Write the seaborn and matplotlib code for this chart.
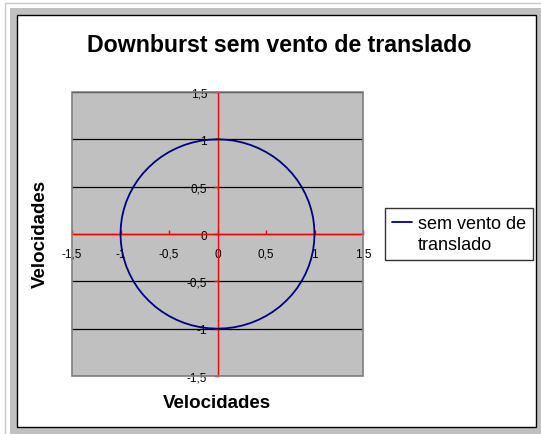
import numpy as np
import pandas as pd
import matplotlib
matplotlib.use("Agg")
import matplotlib.pyplot as plt
import seaborn as sns
from matplotlib.patches import Rectangle
from matplotlib.lines import Line2D

# ---- data ----
x_vals = [1.000, 0.996, 0.985, 0.966, 0.940, 0.906, 0.866, 0.819, 0.766, 0.707,
          0.643, 0.574, 0.500, 0.423, 0.342, 0.259, 0.174, 0.087, 0.000,
          -0.087, -0.174, -0.259, -0.342, -0.423, -0.500, -0.574, -0.643, -0.707,
          -0.766, -0.819, -0.866, -0.906, -0.940, -0.966, -0.985, -0.996, -1.000,
          -0.996, -0.985, -0.966, -0.940, -0.906, -0.866, -0.819, -0.766, -0.707,
          -0.643, -0.574, -0.500, -0.423, -0.342, -0.259, -0.174, -0.087, 0.000,
          0.087, 0.174, 0.259, 0.342, 0.423, 0.500, 0.574, 0.643, 0.707,
          0.766, 0.819, 0.866, 0.906, 0.940, 0.966, 0.985, 0.996, 1.000]
y_vals = [0.000, 0.087, 0.174, 0.259, 0.342, 0.423, 0.500, 0.574, 0.643, 0.707,
          0.766, 0.819, 0.866, 0.906, 0.940, 0.966, 0.985, 0.996, 1.000,
          0.996, 0.985, 0.966, 0.940, 0.906, 0.866, 0.819, 0.766, 0.707,
          0.643, 0.574, 0.500, 0.423, 0.342, 0.259, 0.174, 0.087, 0.000,
          -0.087, -0.174, -0.259, -0.342, -0.423, -0.500, -0.574, -0.643, -0.707,
          -0.766, -0.819, -0.866, -0.906, -0.940, -0.966, -0.985, -0.996, -1.000,
          -0.996, -0.985, -0.966, -0.940, -0.906, -0.866, -0.819, -0.766, -0.707,
          -0.643, -0.574, -0.500, -0.423, -0.342, -0.259, -0.174, -0.087, 0.000]
series_name = "sem vento de translado"
legend_lines = ["sem vento de", "translado"]
tick_values = [-1.5, -1.0, -0.5, 0.0, 0.5, 1.0, 1.5]
tick_labels = ["-1,5", "-1", "-0,5", "0", "0,5", "1", "1,5"]
title = "Downburst sem vento de translado"
x_label = "Velocidades"
y_label = "Velocidades"

df = pd.DataFrame({"x": x_vals, "y": y_vals})

sns.set_theme(style="white")
plt.rcParams["font.family"] = ["Liberation Sans", "DejaVu Sans"]
plt.rcParams["text.color"] = "black"
plt.rcParams["xtick.color"] = "black"
plt.rcParams["ytick.color"] = "black"

W, H = 541, 435
fig = plt.figure(figsize=(W / 100, H / 100), dpi=100)
fig.patch.set_facecolor("white")

def fx(px):
    return px / W

def fy(py):
    return 1 - py / H

# outer frame decorations
fig.add_artist(Line2D([fx(5), fx(5)], [fy(4), 0], transform=fig.transFigure,
                      color="#c8c8c8", lw=1, zorder=-3))
fig.add_artist(Line2D([fx(5), 1], [fy(4), fy(4)], transform=fig.transFigure,
                      color="#c8c8c8", lw=1, zorder=-3))
fig.add_artist(Rectangle((fx(10), 0), 1 - fx(10), fy(9), transform=fig.transFigure,
                         facecolor="#c0c0c0", edgecolor="none", zorder=-2))
fig.add_artist(Rectangle((fx(17), fy(428)), fx(536) - fx(17), fy(16) - fy(428),
                         transform=fig.transFigure, facecolor="white",
                         edgecolor="black", lw=1, zorder=-1))

ax = fig.add_axes([fx(72), fy(377), fx(363) - fx(72), fy(93) - fy(377)])
ax.set_zorder(2)
ax.set_facecolor("#c0c0c0")

sns.lineplot(data=df, x="x", y="y", sort=False, estimator=None, ax=ax,
             color="#000080", lw=1.3, label=series_name, zorder=5)

ax.set_xlim(-1.5, 1.5)
ax.set_ylim(-1.5, 1.5)
ax.set_xticks(tick_values)
ax.set_xticklabels(tick_labels)
ax.set_yticks(tick_values)
ax.set_yticklabels(tick_labels)

# grid: horizontal black lines only
ax.yaxis.grid(True, color="black", lw=0.9)
ax.xaxis.grid(False)
ax.set_axisbelow(True)

# axes crossing at zero in red
for side in ["left", "bottom"]:
    ax.spines[side].set_position(("data", 0))
    ax.spines[side].set_color("#ff0000")
    ax.spines[side].set_linewidth(1)
    ax.spines[side].set_zorder(4)
for side in ["top", "right"]:
    ax.spines[side].set_visible(False)

ax.add_patch(Rectangle((0, 0), 1, 1, transform=ax.transAxes, fill=False,
                       edgecolor="#808080", lw=1.2, zorder=6, clip_on=False))

ax.tick_params(axis="y", which="both", direction="out", length=3, width=1,
               color="#ff0000", labelcolor="black", labelsize=8.5, pad=4.5, left=True)
ax.tick_params(axis="x", which="both", direction="in", length=3, width=1,
               color="#ff0000", labelcolor="black", labelsize=8.5, pad=10, bottom=True)

ax.set_xlabel("")
ax.set_ylabel("")

fig.text(fx(279.5), fy(46), title, ha="center", va="center",
         fontsize=16.7, fontweight="bold", color="black")
fig.text(fx(217), fy(404), x_label, ha="center", va="center",
         fontsize=13.5, fontweight="bold", color="black")
fig.text(fx(40), fy(234), y_label, ha="center", va="center", rotation=90,
         fontsize=13.5, fontweight="bold", color="black")

# legend: series handle on the first line, label wrapped onto a second line
series_handle = ax.get_lines()[0]
blank_handle = Line2D([], [], color="none")
leg = ax.legend([series_handle, blank_handle], legend_lines,
                loc="upper left", bbox_to_anchor=(fx(385), fy(209)),
                bbox_transform=fig.transFigure, frameon=True, fancybox=False,
                edgecolor="black", facecolor="white", fontsize=13,
                borderaxespad=0, handlelength=1.1, handletextpad=0.3,
                borderpad=0.4, labelspacing=0.2)
leg.get_frame().set_linewidth(1)
for t in leg.get_texts():
    t.set_color("black")

fig.savefig("out.png", dpi=100)
